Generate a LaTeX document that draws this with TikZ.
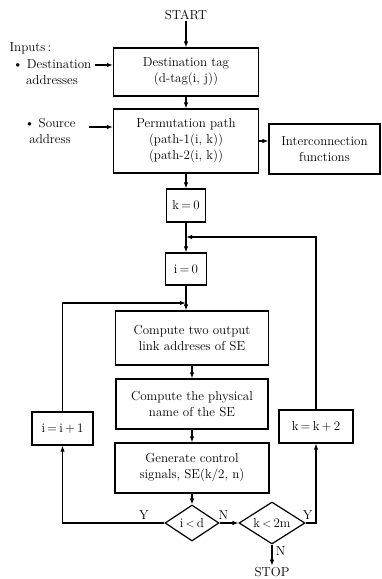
\documentclass[tikz,border=0pt]{standalone}
\usepackage{tikz}
\usetikzlibrary{positioning,arrows.meta,shapes.geometric}

\begin{document}
\begin{tikzpicture}[x=1pt,y=-1pt,
        font=\fontsize{13}{16}\selectfont,
        box/.style={draw, line width=1.2pt, align=center, inner sep=2pt},
        test/.style={draw, diamond, line width=1.2pt, inner sep=0pt, aspect=1.5},
        lbl/.style={align=center, inner sep=1pt},
        every path/.style={line width=1.2pt},
        >={Latex[length=6pt,width=4.5pt]}]
        \useasboundingbox (0,0) rectangle (381,579);
        % main column
        \node[lbl] (start) at (186,15) {START};
        \node[box, minimum width=145, minimum height=48] (dtag) at (186,72) {Destination tag\\(d-tag(i, j))};
        \node[box, minimum width=145, minimum height=64] (perm) at (186,141) {Permutation path\\(path-1(i, k))\\(path-2(i, k))};
        \node[box, minimum width=111, minimum height=50] (inter) at (324.5,149) {Interconnection\\functions};
        \node[box, minimum width=39, minimum height=33] (kzero) at (186,205.5) {k\,=\,0};
        \node[box, minimum width=41, minimum height=32] (izero) at (186,269) {i\,=\,0};
        \node[box, minimum width=153, minimum height=54] (outaddr) at (192,338) {Compute two output\\link addreses of SE};
        \node[box, minimum width=152, minimum height=50] (physname) at (192,404) {Compute the physical\\name of the SE};
        \node[box, minimum width=154, minimum height=50] (ctrl) at (192,468) {Generate control\\signals, SE(k/2, n)};
        \node[test, minimum width=54, minimum height=36] (itest) at (192,523) {i\,$<$\,d};
        \node[test, minimum width=66, minimum height=42] (ktest) at (272,523) {k\,$<$\,2m};
        \node[lbl] (stop) at (272,572) {STOP};
        % loop boxes
        \node[box, minimum width=61, minimum height=33] (inext) at (62.5,428.5) {i\,=\,i\,+\,1};
        \node[box, minimum width=74, minimum height=33] (knext) at (316,426.5) {k\,=\,k\,+\,2};
        % inputs
        \node[lbl, anchor=west] (inputs) at (8,48) {Inputs\,:};
        \node[lbl] (dest) at (52,72) {\textbullet\ Destination\\addresses};
        \node[lbl] (src) at (50,131) {\textbullet\ Source\\address};
        \coordinate (jr) at (186,237);
        \coordinate (jl) at (186,303);

        \draw[->] (start) -- (dtag);
        \draw[->] ([xshift=2,yshift=7]dest.east) -- ([yshift=7]dtag.west);
        \draw[->] (dtag) -- (perm);
        \draw[->] ([xshift=12,yshift=4]src.east) -- ([yshift=14]perm.west);
        \draw[->] (perm.east) -- (perm.east -| inter.west);
        \draw[->] (perm) -- (kzero);
        \draw[->] (kzero) -- (izero);
        \draw[->] (izero.south) -- (izero.south |- outaddr.north);
        \draw[->] (outaddr) -- (physname);
        \draw[->] (physname) -- (ctrl);
        \draw[->] (ctrl) -- (itest);
        \draw[->] (itest.west) -| node[pos=0.1, above] {Y} (inext.south);
        \draw[->] (inext.north) |- (jl);
        \draw[->] (itest.east) -- node[pos=0.2, above] {N} (ktest.west);
        \draw[->] (ktest.east) -| node[pos=0.1, above] {Y} (knext.south);
        \draw[->] (knext.north) |- (jr);
        \draw[->] (ktest.south) -- node[pos=0.3, right] {N} (stop.north);
    \end{tikzpicture}
\end{document}
